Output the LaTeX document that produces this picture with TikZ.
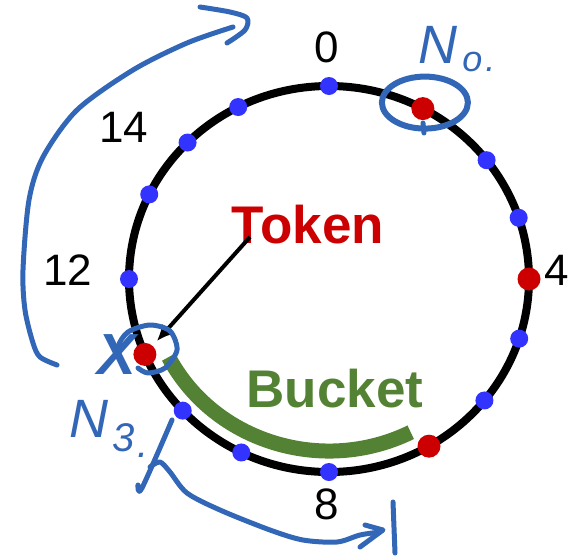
\documentclass[tikz,border=0pt]{standalone}
\usepackage{fontspec}
\setmainfont{Liberation Sans}
\usetikzlibrary{arrows.meta}
\definecolor{dotblue}{RGB}{51,51,255}
\definecolor{dotred}{RGB}{204,0,0}
\definecolor{bucketgreen}{RGB}{84,130,53}
\definecolor{handblue}{RGB}{50,102,182}

\begin{document}
\begin{tikzpicture}[x=1pt, y=1pt,
        blue dot/.style={circle, fill=dotblue, inner sep=0pt, minimum size=18pt},
        red dot/.style={circle, fill=dotred, inner sep=0pt, minimum size=23pt},
        num/.style={font=\fontsize{44}{44}\selectfont},
        big word/.style={font=\fontsize{53}{53}\selectfont\bfseries, anchor=base},
        ink/.style={draw=handblue, line width=5pt, line cap=round, line join=round},
        note/.style={text=handblue, inner sep=1pt, font=\fontsize{54}{54}\selectfont\itshape}]
    \useasboundingbox (-329,-279) rectangle (248,279);

    % ring
    \draw[line width=8pt] (0,0) ellipse [x radius=200, y radius=193];
    \draw[bucketgreen, line width=15pt] (-153:180 and 172) arc [start angle=-153, end angle=-63, x radius=180, y radius=172];

    \foreach \a/\n in {90/p0, 38/p2, 18.5/p3, -18/p5, -39/p6, -90/p8, -116/p9, -137/p10, 180/p12, 154/p13, 135/p14, 117/p15}
        \node[blue dot] (\n) at (\a:200 and 193) {};
    \foreach \a/\n in {62/p1, 0/p4, -60/p7, -157/p11}
        \node[red dot] (\n) at (\a:200 and 193) {};

    \node[num] (l0) at (-2,232) {0};
    \node[num] (l4) at (228,9) {4};
    \node[num] (l8) at (-2,-225) {8};
    \node[num] (l12) at (-261,9) {12};
    \node[num] (l14) at (-205,152) {14};

    \node[big word, text=dotred] (token) at (-21,36) {Token};
    \node[big word, text=bucketgreen] (bucket) at (6,-128) {Bucket};
    \coordinate (tfoot) at (-79,42);
    \draw[-{Latex[length=16pt,width=15pt]}, line width=4pt, shorten >=18pt] (tfoot) -- (p11.center);

    % hand notes
    \draw[ink, line width=6pt] ([shift={(2,6)}]p1.center) ellipse [x radius=43, y radius=26];
    \draw[ink] (94,156) -- (95,146);
    \draw[ink] plot[smooth] coordinates {(-191,-89) (-181,-94) (-164,-89) (-152,-71) (-159,-52) (-179,-46) (-201,-53) (-211,-68) (-207,-83)};
    \node[note] (n0) at (128,230) {N\hspace{5pt}\raisebox{-8pt}{\fontsize{36}{36}\selectfont o\hspace{3pt}.}};
    \node[note, font=\fontsize{58}{58}\selectfont\bfseries\itshape] (x) at (-212,-76) {X};
    \node[note] (n3) at (-220,-150) {N\hspace{4pt}\raisebox{-14pt}{\fontsize{40}{40}\selectfont 3\hspace{3pt}\raisebox{-6pt}{.}}};

    \draw[ink] plot[smooth] coordinates {(-272,-86) (-289,-78) (-296,-64) (-304,-31) (-306,9) (-300,79) (-286,122) (-252,169) (-196,209) (-142,236) (-96,252)};
    \draw[ink] plot[smooth] coordinates {(-129,272) (-99,267) (-82,261) (-84,249) (-102,236)};

    \draw[ink] plot[smooth] coordinates {(-157,-141) (-187,-209) (-191,-206)};
    \draw[ink] plot[smooth] coordinates {(-179,-188) (-169,-183) (-159,-193) (-142,-214) (-109,-231) (-59,-251) (-26,-261) (8,-263) (31,-256) (51,-253)};
    \draw[ink] (36,-246) -- (54,-251) -- (31,-268);
    \draw[ink] (64,-223) -- (66,-274);
\end{tikzpicture}
\end{document}
